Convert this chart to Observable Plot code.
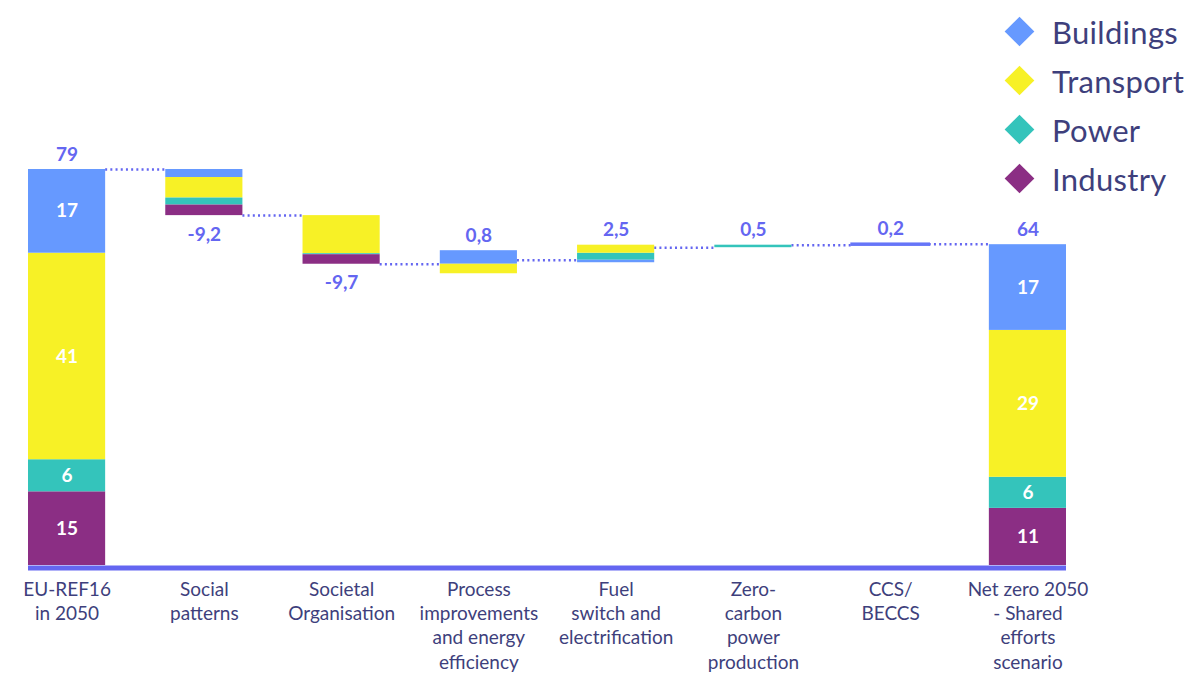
<!DOCTYPE html>
<html><head><meta charset="utf-8">
<script src="https://cdn.jsdelivr.net/npm/d3@7"></script>
<script src="https://cdn.jsdelivr.net/npm/@observablehq/plot@0.6"></script>
<style>
body{margin:0;background:#fff;font-family:Lato,"Noto Sans",sans-serif;}
#wrap{position:relative;width:1191px;height:674px;overflow:hidden;}
#legend{position:absolute;left:1005px;top:7px;}
.item{display:flex;align-items:center;height:49px;font-size:31px;color:#3e3f7c;letter-spacing:0.3px;}
.sw{width:21px;height:21px;transform:rotate(45deg);margin:0 22px 0 4px;flex:none;}
</style></head><body><div id="wrap"><div id="legend"></div></div>
<script>
const steps = ["EU-REF16\nin 2050", "Social\npatterns", "Societal\nOrganisation", "Process\nimprovements\nand energy\nefficiency", "Fuel\nswitch and\nelectrification", "Zero-\ncarbon\npower\nproduction", "CCS/\nBECCS", "Net zero 2050\n- Shared\nefforts\nscenario"];
const buildings = [16.7, -1.6, 0, 2.7, -0.5, 0, 0.2, 17.1];
const transport = [41.2, -4.1, -7.6, -1.9, 1.6, 0, 0, 29.3];
const power     = [6.4, -1.4, -0.2, 0, 1.4, 0.5, 0, 6.2];
const industry  = [14.7, -2.1, -1.9, 0, 0, 0, 0, 11.4];
const totalLabels = ["79", "-9,2", "-9,7", "0,8", "2,5", "0,5", "0,2", "64"];
const seriesNames = ["Buildings", "Transport", "Power", "Industry"];
const seriesColors = ["#6699ff", "#f7f126", "#34c4bb", "#8b2e84"];

const labelColor = "#6466f1";
const textColor = "#3e3f7c";
const hw = 0.281;

const series = [
  {name: "Industry", values: industry},
  {name: "Power", values: power},
  {name: "Transport", values: transport},
  {name: "Buildings", values: buildings}
];

const rects = [];
const ends = [];
let level = 0;
steps.forEach((s, i) => {
  const isTotal = i === 0 || i === steps.length - 1;
  const base = isTotal ? 0 : level;
  let up = base;
  for (const se of series) {
    const v = se.values[i];
    if (v > 0) { rects.push({i, name: se.name, y1: up, y2: up + v, v, total: isTotal}); up += v; }
  }
  let down = base;
  for (const se of [...series].reverse()) {
    const v = se.values[i];
    if (v < 0) { rects.push({i, name: se.name, y1: down + v, y2: down, v, total: isTotal}); down += v; }
  }
  const net = (up - base) + (down - base);
  level = base + net;
  ends.push({i, top: up, bottom: down, level, label: totalLabels[i], neg: net < 0});
});
const connectors = ends.slice(0, -1).map(e => ({x1: e.i + hw, x2: e.i + 1 - hw, y: e.level}));

const chart = Plot.plot({
  width: 1191,
  height: 674,
  marginLeft: 28,
  marginRight: 125,
  marginTop: 169,
  marginBottom: 109,
  x: {domain: [-hw, steps.length - 1 + hw], axis: null},
  y: {domain: [0, 79], axis: null},
  color: {domain: seriesNames, range: seriesColors},
  style: {fontFamily: "Lato, 'Noto Sans', sans-serif", background: "#fff"},
  marks: [
    Plot.ruleY(connectors, {x1: "x1", x2: "x2", y: "y", stroke: labelColor, strokeWidth: 2.5, strokeDasharray: "2,3.2"}),
    Plot.rect(rects, {x1: d => d.i - hw, x2: d => d.i + hw, y1: "y1", y2: "y2", fill: "name"}),
    Plot.rect(rects.filter(d => d.name === "Buildings" && Math.abs(d.v) < 0.3), {x1: d => d.i - hw, x2: d => d.i + hw, y1: "y1", y2: "y2", fill: "name", stroke: "#6675f8", strokeWidth: 2.5}),
    Plot.text(rects.filter(d => d.total && d.v >= 5), {x: "i", y: d => (d.y1 + d.y2) / 2, text: d => String(Math.round(d.v)), fill: "white", fontSize: 19, fontWeight: 700}),
    Plot.text(ends.filter(d => !d.neg), {x: "i", y: "top", text: "label", dy: -15, fill: labelColor, fontSize: 19, fontWeight: 700}),
    Plot.text(ends.filter(d => d.neg), {x: "i", y: "bottom", text: "label", dy: 19, fill: labelColor, fontSize: 19, fontWeight: 700}),
    Plot.ruleY([0], {stroke: labelColor, strokeWidth: 5, dy: 2.5}),
    Plot.text(steps, {x: (d, i) => i, y: () => 0, text: d => d, lineAnchor: "top", dy: 13, fontSize: 19, lineHeight: 1.28, fill: textColor})
  ]
});
document.getElementById("wrap").prepend(chart);

const legend = document.getElementById("legend");
seriesNames.forEach((n, k) => {
  const it = document.createElement("div");
  it.className = "item";
  const sw = document.createElement("div");
  sw.className = "sw";
  sw.style.background = seriesColors[k];
  const t = document.createElement("span");
  t.textContent = n;
  it.append(sw, t);
  legend.append(it);
});
</script>
</body></html>
